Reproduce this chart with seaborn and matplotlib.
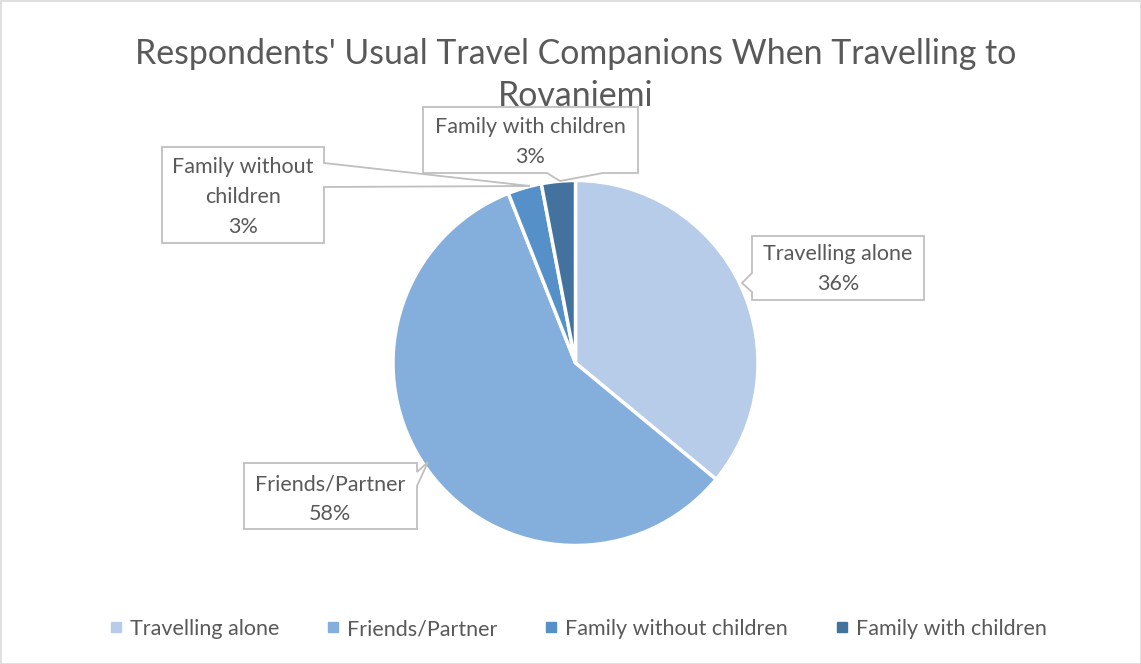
import matplotlib
matplotlib.use("Agg")
import matplotlib.pyplot as plt
from matplotlib.patches import Polygon, Rectangle
from matplotlib.lines import Line2D
import seaborn as sns

sns.set_theme(style="white")
plt.rcParams["font.family"] = ["Lato", "DejaVu Sans"]

title = "Respondents' Usual Travel Companions When Travelling to\nRovaniemi"
categories = ["Travelling alone", "Friends/Partner", "Family without children", "Family with children"]
shares = [36, 58, 3, 3]
label_lines = ["Travelling alone", "Friends/Partner", "Family without\nchildren", "Family with children"]
colors = ["#B7CCE8", "#84AEDC", "#5591C8", "#44729F"]
text_color = "#595959"
box_edge = "#BFBFBF"

W, H = 1141, 664
fig = plt.figure(figsize=(W / 100, H / 100), dpi=100)
ax = fig.add_axes([0, 0, 1, 1])

def Y(y):
    # convert top-down pixel row to axis y
    return H - y

ax.pie(shares, colors=colors, startangle=90, counterclock=False,
       center=(575.5, Y(363)), radius=182.5, frame=True,
       wedgeprops=dict(edgecolor="white", linewidth=2.5))
ax.set_xlim(0, W)
ax.set_ylim(0, H)
ax.set_aspect("equal")
ax.axis("off")

# chart frame
ax.add_patch(Rectangle((0.5, 0.5), W - 1, H - 1, fill=False, edgecolor="#D9D9D9", lw=1.2))

ax.text(576, Y(75), title, ha="center", va="center", fontsize=24.4,
        color=text_color, linespacing=1.4)

def callout(pts, text_xy, text):
    poly = Polygon([(x, Y(y)) for x, y in pts], closed=True, facecolor="white",
                   edgecolor=box_edge, lw=1.3, zorder=5)
    ax.add_patch(poly)
    ax.text(text_xy[0], Y(text_xy[1]), text, ha="center", va="center",
            fontsize=15.5, color=text_color, linespacing=1.6, zorder=6)

labels = [f"{l}\n{v}%" for l, v in zip(label_lines, shares)]

# Travelling alone: pointer on left edge
callout([(752, 236), (924, 236), (924, 300), (752, 300), (752, 292), (742, 283), (752, 273)],
        (838, 269), labels[0])
# Friends/Partner: pointer at top right
callout([(244, 463), (417, 463), (417, 472), (428, 462), (417, 486), (417, 529), (244, 529)],
        (330, 499), labels[1])
# Family without children: long pointer to the right
callout([(162, 147), (324, 147), (324, 163), (530, 186), (324, 187), (324, 243), (162, 243)],
        (243, 197), labels[2])
# Family with children: pointer at bottom
callout([(423, 107), (638, 107), (638, 173), (603, 173), (560, 181), (547, 173), (423, 173)],
        (530, 142), labels[3])

handles = [Line2D([0], [0], marker="s", linestyle="none", markersize=7,
                  markerfacecolor=c, markeredgecolor=c) for c in colors]
leg = ax.legend(handles, categories, loc="center", bbox_to_anchor=(578 / W, 1 - 629 / H),
                ncol=4, frameon=False, fontsize=15.5, handlelength=0.6,
                handletextpad=0.35, columnspacing=2.2, labelcolor=text_color)

fig.savefig("out.png", dpi=100)
